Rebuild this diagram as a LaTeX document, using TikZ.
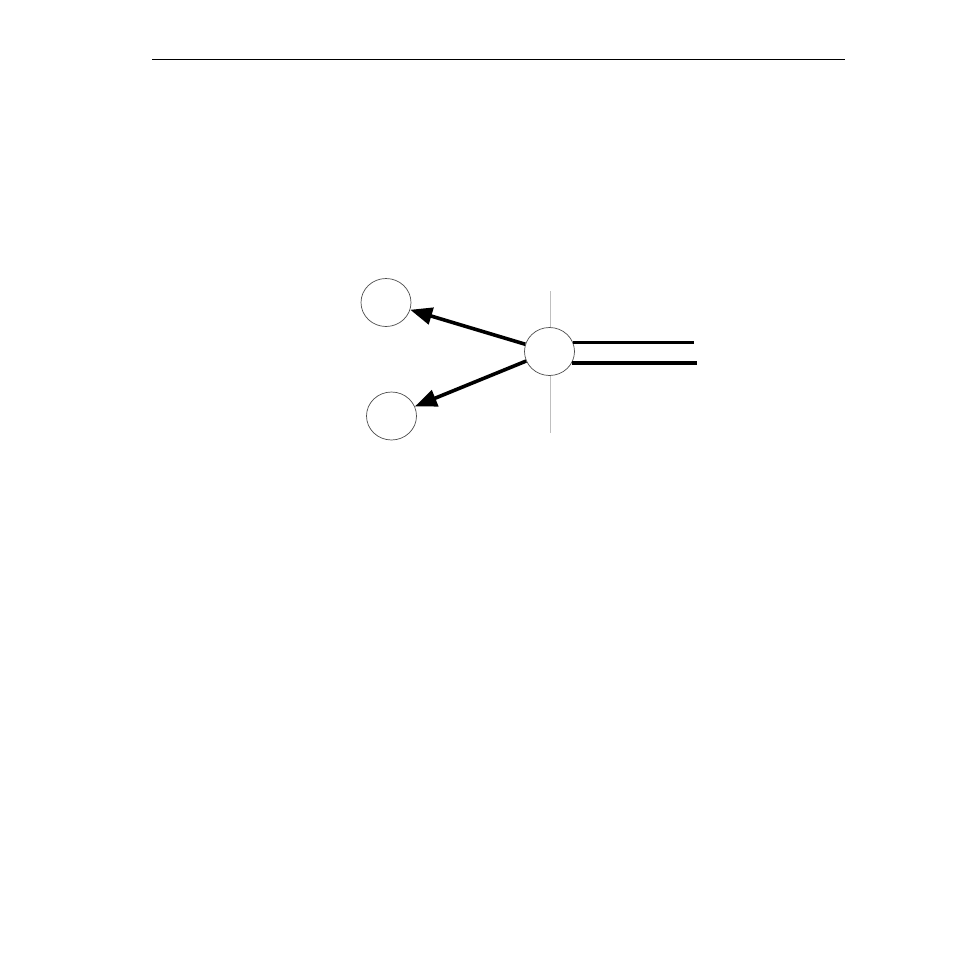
\documentclass[tikz,border=0pt]{standalone}
\usetikzlibrary{shapes.geometric,arrows.meta}
\tikzset{
  site/.style={draw=black!70,line width=0.35pt,fill=white,ellipse,inner sep=0pt,minimum width=25pt,minimum height=24pt},
  bond/.style={line width=1.8pt,-{Triangle[length=11pt,width=8.5pt]}},
  wire/.style={line width=1.6pt},
}
\begin{document}
\begin{tikzpicture}[x=0.5pt,y=-0.5pt]
\useasboundingbox (0,0) rectangle (954,954);
\draw[line width=0.5pt] (152,59.5) -- (845,59.5);
% axis behind the hub
\coordinate (axtop) at (550.5,291);
\coordinate (axbot) at (550.5,433);
\draw[black!25,line width=0.6pt] (axtop) -- (axbot);
\node[site] (hub) at (549.5,351.5) {};
\node[site] (up) at (386,302.5) {};
\node[site] (down) at (391.5,416) {};
\draw[bond] (hub) -- (up);
\draw[bond] (hub) -- (down);
\coordinate (wireA) at (694,343);
\coordinate (wireB) at (697,363);
\draw[wire] (hub.20) -- (hub.20 -| wireA);
\draw[wire] (hub.-27) -- (hub.-27 -| wireB);
\end{tikzpicture}
\end{document}
